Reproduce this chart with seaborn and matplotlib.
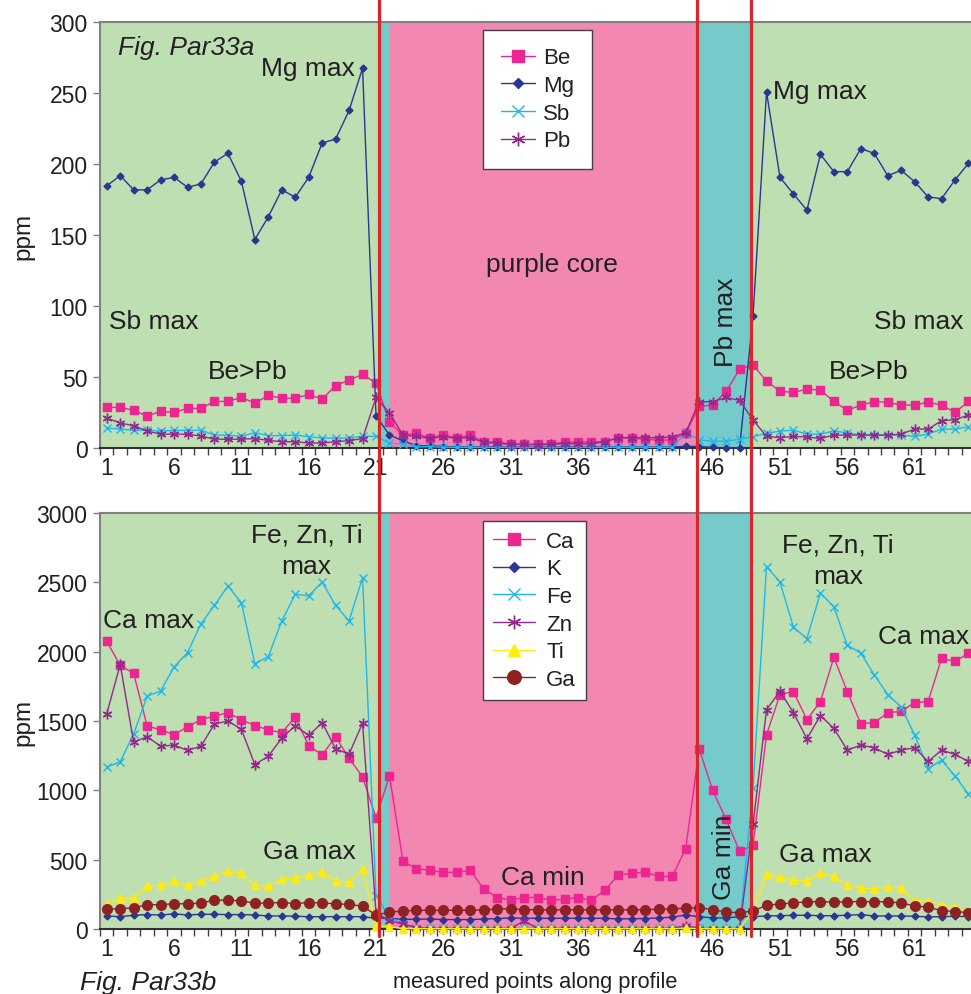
import numpy as np
import pandas as pd
import matplotlib
matplotlib.use("Agg")
import matplotlib.pyplot as plt
import matplotlib.transforms as mtransforms
from matplotlib.lines import Line2D
import seaborn as sns

# ---------------- data ----------------
points = list(range(1, 66))
tick_labels = [str(v) for v in range(1, 66, 5)]

be = [28.6, 28.6, 26.5, 22.5, 25.8, 25.1, 27.9, 27.9, 32.8, 32.8, 35.6, 31.6, 37.0, 35.1, 35.1, 37.7, 34.4, 44.0, 47.8, 51.8, 45.7,
      18.0, 9.1, 10.3, 6.8, 9.4, 6.8, 9.4, 4.0, 4.4, 2.6, 2.6, 2.6, 3.0, 4.0, 4.4, 4.4, 4.4, 7.3, 6.8, 6.1, 5.6, 5.6, 10.5,
      29.3, 30.2, 39.8, 55.5, 58.5,
      47.1, 40.0, 39.1, 41.5, 40.8, 32.8, 26.5, 30.2, 32.6, 32.3, 30.2, 30.2, 32.3, 30.2, 25.1, 32.8]
mg = [184.6, 191.8, 181.8, 181.8, 188.8, 190.6, 183.6, 186.0, 201.4, 207.5, 187.8, 146.8, 162.8, 181.8, 176.6, 190.6, 214.8, 217.6, 237.7, 267.5, 22.7,
      9.1, 5.1, 1.6, 1.6, 1.0, 0.8, 0.8, 0.8, 0.7, 0.7, 0.7, 0.7, 0.7, 0.7, 0.7, 0.7, 0.7, 0.7, 0.7, 0.7, 0.7, 0.7, 1.2,
      1.0, 0.4, 0.2, 0.2, 93.0,
      250.8, 190.6, 178.9, 167.5, 206.8, 194.6, 194.6, 210.8, 207.5, 191.8, 195.5, 187.6, 176.8, 175.6, 188.8, 200.5]
sb = [14.1, 13.3, 12.4, 12.6, 11.9, 12.4, 12.4, 12.6, 9.1, 9.1, 8.2, 10.8, 8.7, 8.7, 9.1, 8.0, 7.0, 7.0, 7.0, 8.2, 8.2,
      3.5, 2.6, 0.7, 1.0, 0.5, 0.5, 0.5, 0.5, 0.5, 0.5, 0.5, 0.5, 0.5, 0.5, 0.5, 0.5, 0.5, 0.5, 0.5, 0.5, 0.5, 0.5, 10.5,
      5.9, 4.7, 4.7, 6.3, 8.0,
      10.3, 11.9, 12.6, 9.8, 9.6, 12.2, 10.5, 9.4, 9.1, 9.1, 9.1, 8.2, 9.8, 13.3, 13.3, 15.0]
pb = [21.1, 17.6, 15.7, 11.9, 9.8, 9.8, 9.6, 8.4, 6.3, 6.1, 6.3, 6.6, 5.4, 4.4, 4.4, 3.5, 3.5, 4.4, 5.2, 6.6, 35.6,
      24.6, 9.1, 8.2, 6.8, 8.0, 6.8, 7.3, 4.0, 3.3, 2.6, 2.6, 2.3, 2.6, 3.0, 3.0, 3.0, 4.4, 7.3, 7.3, 7.3, 7.3, 7.7, 10.8,
      32.6, 32.6, 35.6, 33.5, 19.7,
      8.2, 7.3, 8.2, 7.7, 6.8, 9.1, 9.1, 9.1, 9.1, 9.1, 9.8, 13.3, 13.3, 19.2, 19.9, 23.2]

ca = [2075, 1901, 1843, 1464, 1437, 1401, 1459, 1510, 1536, 1560, 1510, 1466, 1437, 1415, 1529, 1321, 1256, 1386, 1230, 1097, 802,
      1104, 488, 435, 423, 408, 408, 423, 288, 227, 208, 227, 227, 208, 215, 227, 208, 280, 391, 401, 411, 379, 379, 580,
      1299, 1000, 790, 560, 604,
      1401, 1691, 1712, 1510, 1640, 1959, 1712, 1481, 1488, 1560, 1570, 1633, 1640, 1952, 1930, 1988]
k = [94, 89, 99, 104, 101, 109, 101, 106, 106, 104, 104, 101, 94, 94, 92, 89, 89, 89, 89, 89, 77,
     77, 70, 70, 72, 68, 68, 68, 72, 75, 80, 77, 77, 77, 77, 77, 77, 77, 72, 75, 75, 80, 85, 101,
     89, 80, 80, 89, 89,
     94, 96, 99, 99, 96, 96, 99, 104, 94, 94, 94, 92, 87, 89, 92, 89]
fe = [1169, 1205, 1406, 1679, 1717, 1889, 1993, 2201, 2333, 2473, 2353, 1913, 1964, 2222, 2413, 2403, 2502, 2333, 2222, 2534, 241,
      85, 36, 10, 5, 5, 5, 5, 5, 5, 5, 5, 5, 5, 5, 5, 5, 5, 5, 5, 5, 5, 5, 22,
      5, 3, 3, 3, 1019,
      2614, 2502, 2176, 2094, 2423, 2324, 2046, 1990, 1833, 1691, 1601, 1399, 1157, 1217, 1104, 971]
zn = [1551, 1908, 1348, 1386, 1319, 1326, 1288, 1319, 1478, 1500, 1440, 1186, 1246, 1377, 1466, 1396, 1488, 1299, 1261, 1486, 114,
      60, 36, 10, 3, 3, 3, 3, 3, 3, 3, 60, 3, 3, 3, 3, 3, 3, 3, 3, 3, 3, 3, 24,
      3, 3, 3, 3, 754,
      1582, 1715, 1560, 1372, 1539, 1447, 1290, 1326, 1307, 1259, 1290, 1307, 1208, 1290, 1259, 1208]
ti = [181, 220, 220, 309, 316, 343, 314, 348, 379, 418, 403, 314, 309, 357, 370, 386, 413, 343, 338, 433, 24,
      17, 2, 2, 2, 2, 2, 2, 2, 2, 2, 2, 2, 2, 2, 2, 2, 2, 2, 2, 2, 2, 2, 5,
      2, 2, 2, 2, 130,
      394, 372, 353, 348, 403, 379, 316, 295, 290, 300, 298, 205, 200, 174, 160, 118]
ga = [143, 147, 152, 176, 175, 183, 181, 188, 208, 208, 203, 186, 188, 191, 183, 191, 188, 181, 178, 164, 101,
      121, 130, 135, 135, 135, 135, 135, 137, 145, 145, 140, 138, 138, 138, 138, 138, 138, 138, 138, 140, 142, 145, 150,
      155, 138, 123, 117, 130,
      171, 181, 188, 196, 198, 193, 196, 198, 196, 196, 188, 167, 157, 133, 126, 118]

# zone boundaries (category positions) and zone colours
zone_edges = [0.5, 21.2, 22.0, 44.87, 48.85, 65.5]
zone_colors = ["#BEDFB2", "#74CBC9", "#F287B2", "#74CBC9", "#BEDFB2"]
boundary_lines = [21.2, 44.87, 48.85]

# ---------------- style ----------------
sns.set_style("ticks")
plt.rcParams["font.family"] = ["Liberation Sans", "DejaVu Sans"]
TXT = "#231F20"

W, H = 971, 995
fig = plt.figure(figsize=(W / 100, H / 100), dpi=100)
fig.patch.set_facecolor("white")
axw = 65 * 13.465 / W
ax1 = fig.add_axes([100 / W, 1 - 449 / H, axw, 426 / H])
ax2 = fig.add_axes([100 / W, 1 - 930 / H, axw, 416 / H])

PINK = "#EC2590"
NAVY = "#2B3592"
CYAN = "#1DB7EC"
PURP = "#93288F"
YELL = "#FFEB12"
DRED = "#8E2222"
AST = (6, 2, 0)


def draw(ax, y, color, marker, ms, label, mew=1.0, lw=1.0):
    sns.lineplot(x=points, y=y, ax=ax, color=color, marker=marker, markersize=ms,
                 markeredgecolor=color, markerfacecolor=color, markeredgewidth=mew,
                 linewidth=lw, label=label, estimator=None, sort=False,
                 clip_on=False, zorder=3)


for ax in (ax1, ax2):
    for i, c in enumerate(zone_colors):
        ax.axvspan(zone_edges[i], zone_edges[i + 1], color=c, lw=0, zorder=0)

draw(ax1, be, PINK, "s", 6, "Be")
draw(ax1, mg, NAVY, "D", 3.5, "Mg")
draw(ax1, sb, CYAN, "x", 6, "Sb")
draw(ax1, pb, PURP, AST, 7, "Pb")

draw(ax2, ca, PINK, "s", 6, "Ca")
draw(ax2, k, NAVY, "D", 3.5, "K")
draw(ax2, fe, CYAN, "x", 6, "Fe")
draw(ax2, zn, PURP, AST, 7, "Zn")
draw(ax2, ti, YELL, "^", 6, "Ti")
draw(ax2, ga, DRED, "o", 7, "Ga")

ax1.set_ylim(0, 300)
ax1.set_yticks(range(0, 301, 50))
ax2.set_ylim(0, 3000)
ax2.set_yticks(range(0, 3001, 500))

for ax in (ax1, ax2):
    ax.set_xlim(0.5, 65.5)
    ax.set_xticks(range(1, 66, 5))
    ax.set_xticklabels(tick_labels)
    ax.set_xticks(np.arange(0.5, 66, 1), minor=True)
    ax.tick_params(axis="x", which="major", length=0, pad=6, labelcolor=TXT, labelsize=16.5)
    ax.tick_params(axis="x", which="minor", length=5, width=1, color="#404040", direction="out")
    ax.tick_params(axis="y", length=5, width=1, color="#808080", direction="out", pad=4,
                   labelcolor=TXT, labelsize=16.5)
    ax.set_xlabel("")
    ax.set_ylabel("")
    ax.spines["right"].set_visible(False)
    ax.spines["top"].set_color("#808080")
    ax.spines["left"].set_color("#808080")
    ax.spines["bottom"].set_color("#303030")
    for s in ("top", "left", "bottom"):
        ax.spines[s].set_linewidth(1.5)

# legends
common = dict(loc="upper left", borderaxespad=0, frameon=True, fancybox=False,
              framealpha=1, facecolor="white", edgecolor="#404040", fontsize=16,
              labelspacing=0.3, markerscale=1.4)
lg1 = ax1.legend(bbox_to_anchor=((483 - 100) / 875.2, 1 - 7.5 / 426),
                 borderpad=0.8, handlelength=1.55, handletextpad=0.35, **common)
lg2 = ax2.legend(bbox_to_anchor=((483 - 100) / 875.2, 1 - 8 / 416),
                 borderpad=0.44, handlelength=1.9, handletextpad=0.5, **common)
for lg in (lg1, lg2):
    lg.get_frame().set_linewidth(1.0)
    lg.set_zorder(5)
    for t in lg.get_texts():
        t.set_color(TXT)

# annotations (top)
ann = dict(fontsize=19, color=TXT, zorder=4)
ax1.text(1.82, 282.4, "Fig. Par33a", style="italic", ha="left", va="center", **ann)
ax1.text(12.44, 267.6, "Mg max", ha="left", va="center", **ann)
ax1.text(1.15, 89.4, "Sb max", ha="left", va="center", **ann)
ax1.text(8.5, 54.2, "Be>Pb", ha="left", va="center", **ann)
ax1.text(34.05, 129.6, "purple core", ha="center", va="center", **ann)
ax1.text(46.97, 89.4, "Pb max", rotation=90, ha="center", va="center", **ann)
ax1.text(50.46, 251.4, "Mg max", ha="left", va="center", **ann)
ax1.text(57.96, 89.4, "Sb max", ha="left", va="center", **ann)
ax1.text(54.62, 54.2, "Be>Pb", ha="left", va="center", **ann)

# annotations (bottom)
ax2.text(15.85, 2733, "Fe, Zn, Ti\nmax", ha="center", va="center", linespacing=1.4, **ann)
ax2.text(0.7, 2228, "Ca max", ha="left", va="center", **ann)
ax2.text(12.59, 562, "Ga max", ha="left", va="center", **ann)
ax2.text(33.38, 375, "Ca min", ha="center", va="center", **ann)
ax2.text(46.82, 526, "Ga min", rotation=90, ha="center", va="center", **ann)
ax2.text(55.29, 2661, "Fe, Zn, Ti\nmax", ha="center", va="center", linespacing=1.4, **ann)
ax2.text(58.26, 2113, "Ca max", ha="left", va="center", **ann)
ax2.text(50.9, 541, "Ga max", ha="left", va="center", **ann)

# figure texts
fig.text(23 / W, 1 - 236 / H, "ppm", rotation=90, ha="center", va="center",
         fontsize=17.5, color=TXT)
fig.text(23 / W, 1 - 722 / H, "ppm", rotation=90, ha="center", va="center",
         fontsize=17.5, color=TXT)
fig.text(80 / W, 1 - 983 / H, "Fig. Par33b", style="italic", ha="left", va="center",
         fontsize=19, color=TXT)
fig.text(535 / W, 1 - 983 / H, "measured points along profile", ha="center", va="center",
         fontsize=15.7, color=TXT)

# red boundary lines spanning both panels
trans = mtransforms.blended_transform_factory(ax2.transData, fig.transFigure)
for xb in boundary_lines:
    fig.add_artist(Line2D([xb, xb], [1 - 937 / H, 1.0], transform=trans,
                          color="#D8262C", linewidth=2.3, zorder=10))

fig.savefig("out.png", dpi=100)
